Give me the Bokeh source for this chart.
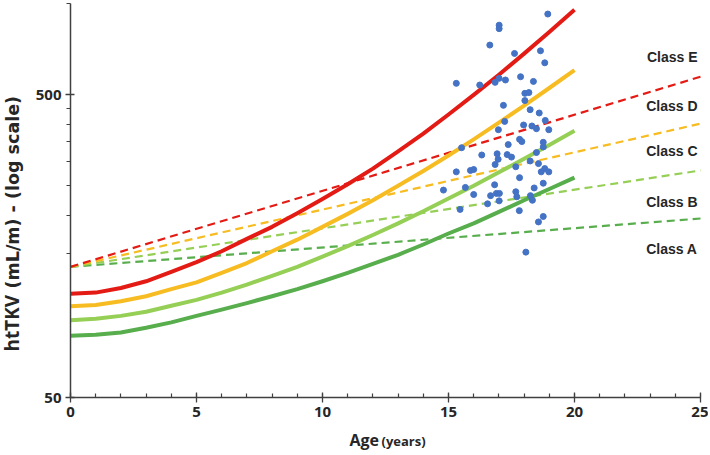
import math
from bokeh.plotting import figure
from bokeh.models import FixedTicker, Label, BasicTickFormatter, Range1d
from bokeh.embed import file_html
from bokeh.resources import INLINE

# ---------------- data ----------------
curve_ages = list(range(0, 21))
limit_red = [110, 111, 115, 121, 130, 140, 152, 167, 183, 203, 226, 253, 285, 325, 372, 430, 499, 582, 683, 805, 954]
limit_orange = [100, 101, 104, 108, 114, 120, 129, 139, 152, 166, 183, 202, 224, 250, 280, 315, 356, 404, 460, 526, 603]
limit_lightgreen = [90, 91, 93, 96, 100.5, 105, 111, 118, 126, 135, 146, 158, 172, 188, 206, 227, 250, 277, 307, 341, 380]
limit_green = [80, 80.5, 82, 85, 88.5, 93, 97.5, 102.5, 108, 114, 121, 129, 138, 148, 160, 174, 188, 205, 224, 244, 266]

boundary_ages = [0, 25]
boundary_DE = [135, 573]
boundary_CD = [135, 401]
boundary_BC = [135, 281]
boundary_AB = [135, 195]

patient_age = [18.94, 17.01, 17.01, 16.64, 17.62, 18.65, 18.82, 15.31, 16.24, 16.85,
               17.01, 17.26, 17.86, 18.37, 18.03, 18.19, 18.03, 17.18, 18.24, 18.60,
               17.23, 18.84, 17.98, 18.31, 18.49, 18.98, 16.98, 15.52, 17.37, 17.82,
               17.91, 18.76, 18.76, 16.32, 16.93, 17.33, 17.50, 16.97, 18.49, 16.85,
               18.24, 18.57, 17.67, 15.31, 15.87, 16.00, 18.82, 18.68, 18.98, 17.82,
               18.76, 16.83, 15.67, 14.80, 18.40, 16.00, 16.90, 17.02, 16.67, 17.67,
               17.71, 18.25, 18.33, 16.55, 17.01, 15.46, 17.81, 18.76, 18.57, 18.07]
patient_httkv = [923, 848, 826, 729, 684, 698, 637, 545, 538, 549,
                 566, 559, 573, 553, 505, 508, 478, 461, 446, 435,
                 408, 411, 397, 394, 386, 383, 383, 334, 342, 356,
                 350, 348, 336, 316, 319, 317, 311, 306, 322, 294,
                 302, 296, 289, 278, 281, 283, 285, 278, 278, 266,
                 255, 252, 247, 242, 246, 234, 236, 236, 232, 239,
                 230, 232, 224, 218, 223, 209, 207, 198, 190, 151]

class_names = ["Class E", "Class D", "Class C", "Class B", "Class A"]
class_label_values = [667, 460, 325, 221, 155]

x_axis_span = (0, 25)
y_axis_span = (50, 1000)
x_major = [0, 5, 10, 15, 20, 25]
x_minor = list(range(0, 26))
y_major = [50, 500]
y_minor = [150, 200, 250, 300, 350, 400, 450, 1000]

# ---------------- layout ----------------
W, H = 708, 452
AX_LEFT, AX_RIGHT = 70, 700      # canvas px of x = 0 and x = 25
AX_TOP, AX_BOTTOM = 3, 397       # canvas px of y = 1000 and y = 50

ppy = (AX_RIGHT - AX_LEFT) / (x_axis_span[1] - x_axis_span[0])
ppd = (AX_BOTTOM - AX_TOP) / math.log10(y_axis_span[1] / y_axis_span[0])
x_lo = x_axis_span[0] - AX_LEFT / ppy
x_hi = x_axis_span[1] + (W - AX_RIGHT) / ppy
y_hi = y_axis_span[1] * 10 ** (AX_TOP / ppd)
y_lo = y_axis_span[0] * 10 ** (-(H - AX_BOTTOM) / ppd)

# ---------------- styles ----------------
RED = "#E41A14"
ORANGE = "#F6BC22"
LIGHTGREEN = "#96CF55"
GREEN = "#58AE4C"
BLUE = "#4472C4"
AXIS = "#404040"
TEXT = "#262626"

p = figure(width=W, height=H, x_range=Range1d(x_lo, x_hi), y_range=Range1d(y_lo, y_hi),
           y_axis_type="log", output_backend="svg", toolbar_location=None,
           min_border_left=0, min_border_right=0, min_border_top=0,
           min_border_bottom=0)
p.outline_line_color = None
p.xgrid.visible = False
p.ygrid.visible = False

# axes drawn at fixed data locations inside the frame
xa = p.xaxis[0]
ya = p.yaxis[0]
xa.fixed_location = y_axis_span[0]
xa.bounds = x_axis_span
ya.fixed_location = x_axis_span[0]
ya.bounds = y_axis_span

for ax in (xa, ya):
    ax.axis_line_color = AXIS
    ax.axis_line_width = 1.5
    ax.major_tick_line_color = AXIS
    ax.minor_tick_line_color = AXIS
    ax.major_tick_line_width = 1.3
    ax.minor_tick_line_width = 1.2
    ax.major_label_text_font = "Open Sans"
    ax.major_label_text_font_style = "bold"
    ax.major_label_text_font_size = "15px"
    ax.major_label_text_color = TEXT

xa.ticker = FixedTicker(ticks=x_major, minor_ticks=x_minor)
xa.major_tick_in = 5
xa.major_tick_out = 5
xa.minor_tick_in = 4
xa.minor_tick_out = 0
xa.major_label_standoff = 4

ya.ticker = FixedTicker(ticks=y_major, minor_ticks=y_minor)
ya.formatter = BasicTickFormatter()
ya.major_label_overrides = {50: "50", 500: "500"}
ya.major_tick_in = 4
ya.major_tick_out = 5
ya.minor_tick_in = 0
ya.minor_tick_out = 4
ya.major_label_standoff = 4

# dashed class boundaries
for vals, col in ((boundary_AB, GREEN), (boundary_BC, LIGHTGREEN),
                  (boundary_CD, ORANGE), (boundary_DE, RED)):
    p.line(boundary_ages, vals, line_color=col, line_width=2.2, line_dash="8 5")

# solid curves
for vals, col in ((limit_green, GREEN), (limit_lightgreen, LIGHTGREEN),
                  (limit_orange, ORANGE), (limit_red, RED)):
    p.line(curve_ages, vals, line_color=col, line_width=4, line_join="round")

# patients
p.scatter(patient_age, patient_httkv, size=6, fill_color=BLUE, line_color=BLUE)

# class labels
for name, val in zip(class_names, class_label_values):
    p.add_layout(Label(x=x_axis_span[1], y=val, x_offset=-3, text=name, text_align="right",
                       text_baseline="middle", text_font="Liberation Sans",
                       text_font_style="bold", text_font_size="14px",
                       text_color=TEXT))

# axis titles (screen units: frame == whole canvas, origin bottom-left)
p.add_layout(Label(x=349, y=H - 439, x_units="screen", y_units="screen", text="Age",
                   text_align="left", text_baseline="middle",
                   text_font="Open Sans", text_font_style="bold",
                   text_font_size="16px", text_color=TEXT))
p.add_layout(Label(x=381, y=H - 440, x_units="screen", y_units="screen", text="(years)",
                   text_align="left", text_baseline="middle",
                   text_font="Open Sans", text_font_style="bold",
                   text_font_size="13px", text_color=TEXT))
p.add_layout(Label(x=11, y=H - 351, x_units="screen", y_units="screen", text="htTKV",
                   angle=math.pi / 2, text_align="left", text_baseline="middle",
                   text_font="Open Sans", text_font_style="bold",
                   text_font_size="19px", text_color=TEXT))
p.add_layout(Label(x=12, y=H - 288, x_units="screen", y_units="screen",
                   text="(mL/m) - (log scale)",
                   angle=math.pi / 2, text_align="left", text_baseline="middle",
                   text_font="DejaVu Sans", text_font_style="bold",
                   text_font_size="17.5px", text_color=TEXT))

open("out.html", "w").write(file_html(p, INLINE))
